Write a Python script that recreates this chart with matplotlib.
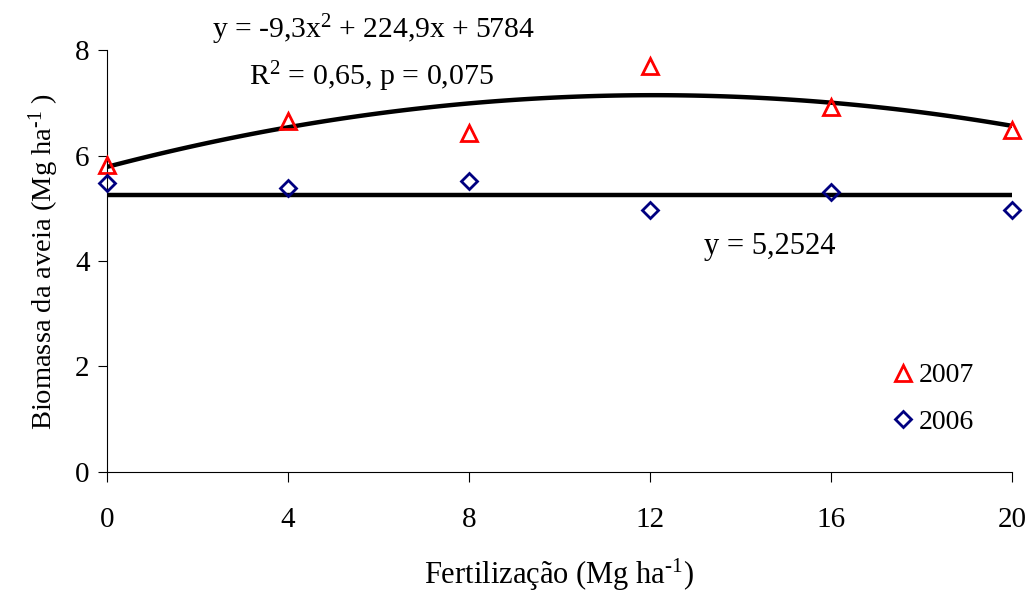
import numpy as np
import matplotlib
matplotlib.use("Agg")
import matplotlib.pyplot as plt

plt.rcParams['font.family'] = ['Liberation Serif', 'DejaVu Serif']
plt.rcParams['mathtext.fontset'] = 'custom'
plt.rcParams['mathtext.rm'] = 'Liberation Serif'
plt.rcParams['mathtext.it'] = 'Liberation Serif'

# dados
doses = [0, 4, 8, 12, 16, 20]
biomassa_2007 = [5.82, 6.66, 6.42, 7.70, 6.92, 6.49]
biomassa_2006 = [5.47, 5.39, 5.52, 4.96, 5.30, 4.96]

# ajustes (kg/ha na equacao, grafico em Mg/ha)
coef_2007 = [-9.3, 224.9, 5784]
media_2006 = 5.2524

fig = plt.figure(figsize=(10.35, 5.94), dpi=100)
ax = fig.add_axes([0.1034, 0.2054, 0.8744, 0.7104])

xs = np.linspace(0, 20, 101)
ys = np.polyval(coef_2007, xs) / 1000
ax.plot(xs, ys, color='black', lw=3.2, zorder=2)
ax.plot([0, 20], [media_2006, media_2006], color='black', lw=3.2, zorder=2)

ax.plot(doses, biomassa_2007, linestyle='none', marker='^', markersize=11,
        markerfacecolor='none', markeredgecolor='#ff0000', markeredgewidth=2,
        label='2007', zorder=3, clip_on=False)
ax.plot(doses, biomassa_2006, linestyle='none', marker='D', markersize=8,
        markerfacecolor='none', markeredgecolor='#000080', markeredgewidth=2,
        label='2006', zorder=3, clip_on=False)

ax.set_xlim(0, 20)
ax.set_ylim(0, 8)
ax.set_xticks(doses)
ax.set_yticks([0, 2, 4, 6, 8])
ax.spines['top'].set_visible(False)
ax.spines['right'].set_visible(False)
ax.spines['left'].set_linewidth(0.8)
ax.spines['bottom'].set_linewidth(0.8)
ax.tick_params(axis='x', direction='out', length=7, width=0.8, pad=18, labelsize=21)
ax.tick_params(axis='y', direction='out', length=6.5, width=0.8, pad=6, labelsize=21)

ax.set_xlabel('Fertilização (Mg ha$^{\\text{-1}}$)', fontsize=22, labelpad=17)
ax.set_ylabel('Biomassa da aveia (Mg ha$^{\\text{-1}}$ )', fontsize=20.5, labelpad=10)

ax.text(2.32, 8.38, 'y = -9,3x$^{2}$ + 224,9x + 5784', fontsize=21.3,
        ha='left', va='center', clip_on=False)
ax.text(3.14, 7.49, 'R$^{2}$ = 0,65, p = 0,075', fontsize=21.5,
        ha='left', va='center')
ax.text(13.2, 4.27, 'y = 5,2524', fontsize=22, ha='left', va='center')

ax.legend(frameon=False, loc='upper left', bbox_to_anchor=(0.855, 0.285),
          handlelength=0.8, handletextpad=0.15, labelspacing=0.75,
          fontsize=20, borderaxespad=0)

fig.savefig('out.png', dpi=100)
